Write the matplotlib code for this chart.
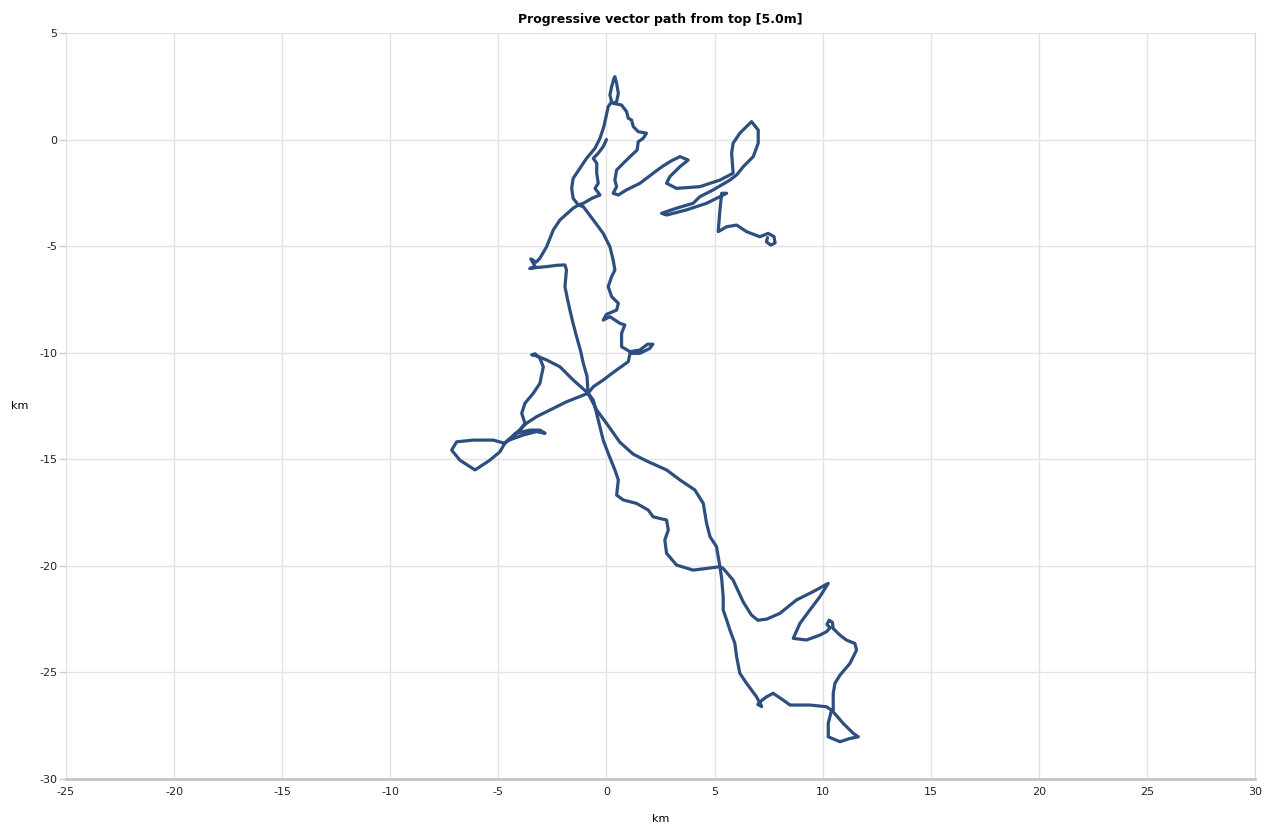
import numpy as np
import matplotlib.pyplot as plt

plt.rcParams['axes.unicode_minus'] = False

# path pieces in km (east, north), in drawing order
seg_start = [(0.0, 0.0), (-0.15, -0.33), (-0.38, -0.64), (-0.61, -0.88), (-0.45, -1.11), (-0.45, -1.58),
             (-0.38, -2.05), (-0.53, -2.29), (-0.30, -2.6), (-0.68, -2.76), (-1.07, -2.99), (-1.30, -3.07)]
seg_left = [(-1.54, -3.22), (-2.15, -3.77), (-2.46, -4.24), (-2.77, -5.03), (-3.08, -5.57), (-3.25, -5.75),
            (-3.5, -5.6), (-3.3, -5.95), (-3.55, -6.05), (-3.2, -6.0), (-2.77, -5.96), (-2.3, -5.9),
            (-1.92, -5.88), (-1.85, -6.12), (-1.92, -6.9), (-1.80, -7.5), (-1.69, -8.0), (-1.55, -8.6),
            (-1.38, -9.25), (-1.2, -9.9), (-1.07, -10.5), (-0.9, -11.1), (-0.85, -11.9)]
seg_down = [(-0.61, -12.22), (-0.38, -13.16), (-0.15, -14.1), (0.08, -14.72), (0.39, -15.5), (0.55, -15.97),
            (0.47, -16.68), (0.78, -16.91), (1.39, -17.07), (1.93, -17.38), (2.16, -17.7), (2.78, -17.85),
            (2.86, -18.32), (2.70, -18.79), (2.78, -19.41), (3.24, -19.96), (4.01, -20.2), (4.63, -20.12),
            (5.25, -20.04)]
seg_south = [(5.33, -20.6), (5.40, -21.45), (5.40, -22.07), (5.56, -22.54), (5.71, -23.01), (5.94, -23.64),
             (6.02, -24.26), (6.17, -25.04), (6.48, -25.51), (6.94, -26.14), (7.1, -26.45), (7.18, -26.6),
             (7.0, -26.5), (7.2, -26.3), (7.41, -26.14), (7.71, -25.98), (8.18, -26.3), (8.49, -26.53),
             (9.41, -26.53), (10.18, -26.61), (10.41, -26.77)]
seg_triangle = [(10.26, -27.39), (10.26, -28.02), (10.80, -28.25), (11.26, -28.1), (11.65, -28.02),
                (11.42, -27.86), (10.95, -27.39), (10.49, -26.85)]
seg_east = [(10.49, -25.98), (10.57, -25.51), (10.80, -25.13), (11.26, -24.58), (11.57, -23.95),
            (11.49, -23.64), (11.1, -23.48), (10.80, -23.25), (10.49, -22.94), (10.45, -22.65),
            (10.3, -22.55), (10.2, -22.75), (10.35, -22.9), (10.18, -23.09), (9.87, -23.25), (9.25, -23.48),
            (8.64, -23.4), (8.95, -22.7), (9.41, -22.07), (9.87, -21.45), (10.26, -20.82), (9.56, -21.21),
            (8.79, -21.6), (8.02, -22.23), (7.41, -22.5), (7.0, -22.55), (6.7, -22.3), (6.33, -21.7),
            (5.86, -20.67), (5.40, -20.12), (5.25, -20.04)]
seg_back_up = [(5.09, -19.1), (4.79, -18.63), (4.63, -18.0), (4.48, -17.07), (4.09, -16.44), (3.40, -15.97),
               (2.78, -15.5), (1.86, -15.08), (1.24, -14.76), (0.62, -14.2), (0.0, -13.31), (-0.45, -12.69),
               (-0.85, -11.9)]
seg_hook = [(-1.54, -11.28), (-2.15, -10.66), (-2.77, -10.34), (-3.23, -10.15), (-3.46, -10.1), (-3.3, -10.05),
            (-3.08, -10.26), (-2.92, -10.66), (-3.08, -11.44), (-3.39, -11.91), (-3.77, -12.37),
            (-3.92, -12.84), (-3.77, -13.31), (-4.0, -13.63), (-4.47, -14.02), (-4.70, -14.25)]
seg_west_loop = [(-5.24, -14.1), (-6.16, -14.1), (-6.93, -14.18), (-7.16, -14.57), (-6.78, -15.04),
                 (-6.08, -15.5), (-5.39, -15.04), (-4.93, -14.65), (-4.70, -14.25)]
seg_sliver = [(-4.16, -13.78), (-3.54, -13.63), (-3.08, -13.63), (-2.84, -13.78), (-3.24, -13.7),
              (-3.85, -13.86), (-4.5, -14.1)]
seg_cross = [(-3.70, -13.31), (-3.23, -13.0), (-2.61, -12.69), (-1.84, -12.3), (-0.85, -11.9)]
seg_right = [(-0.61, -11.6), (-0.15, -11.28), (0.47, -10.81), (1.01, -10.42), (1.09, -10.03), (1.55, -10.03),
             (2.0, -9.8), (2.15, -9.6), (1.9, -9.6), (1.55, -9.87), (1.09, -9.95), (0.70, -9.72),
             (0.70, -9.09), (0.85, -8.70), (0.62, -8.62), (0.16, -8.31), (-0.15, -8.47), (0.0, -8.2),
             (0.47, -8.0), (0.55, -7.68), (0.24, -7.37), (0.08, -6.90), (0.24, -6.43), (0.39, -6.12),
             (0.31, -5.65), (0.16, -5.03), (-0.15, -4.40), (-0.61, -3.77), (-1.07, -3.15), (-1.30, -3.07)]
seg_north = [(-1.54, -2.76), (-1.61, -2.29), (-1.54, -1.82), (-1.23, -1.35), (-0.92, -0.88), (-0.53, -0.41),
             (-0.30, 0.06), (-0.12, 0.61), (-0.02, 1.07), (0.08, 1.54), (0.24, 1.78), (0.16, 2.09),
             (0.24, 2.48), (0.35, 2.88), (0.39, 2.95), (0.47, 2.64), (0.55, 2.17), (0.47, 1.78), (0.31, 1.70)]
seg_ne = [(0.70, 1.62), (0.93, 1.31), (1.01, 1.0), (1.16, 0.92), (1.24, 0.61), (1.47, 0.37), (1.85, 0.30),
          (1.70, 0.06), (1.47, -0.10), (1.42, -0.49), (1.09, -0.80), (0.78, -1.11), (0.47, -1.43),
          (0.39, -1.90), (0.47, -2.21), (0.31, -2.52), (0.55, -2.6), (0.93, -2.36), (1.55, -2.05),
          (2.16, -1.58), (2.6, -1.25), (3.0, -1.0), (3.40, -0.80), (3.78, -0.96), (3.40, -1.27),
          (2.93, -1.74), (2.78, -2.05), (3.24, -2.29), (4.32, -2.21), (5.25, -1.90), (5.86, -1.58)]
seg_ne_loop = [(5.79, -0.64), (5.86, -0.17), (6.17, 0.30), (6.71, 0.84), (7.02, 0.45), (7.02, -0.17),
               (6.79, -0.80), (6.33, -1.27), (6.02, -1.66), (5.71, -1.90)]
seg_narrow = [(4.94, -2.36), (4.32, -2.68), (4.01, -2.99), (3.24, -3.22), (2.55, -3.46), (2.78, -3.54),
              (3.70, -3.30), (4.63, -2.99), (5.56, -2.52), (5.33, -2.52)]
seg_end = [(5.25, -3.30), (5.17, -4.32), (5.56, -4.09), (6.02, -4.01), (6.48, -4.32), (7.10, -4.56),
           (7.48, -4.4), (7.75, -4.55), (7.8, -4.85), (7.6, -4.95), (7.4, -4.8), (7.45, -4.6)]

segments = [seg_start, seg_left, seg_down, seg_south, seg_triangle, seg_east, seg_back_up, seg_hook,
            seg_west_loop, seg_sliver, seg_cross, seg_right, seg_north, seg_ne, seg_ne_loop, seg_narrow, seg_end]
path = np.array([p for s in segments for p in s])

x_ticks = np.arange(-25, 31, 5)
y_ticks = np.arange(-30, 6, 5)

fig = plt.figure(figsize=(12.77, 8.30), dpi=100)
ax = fig.add_axes([66 / 1277, 1 - 779 / 830, (1255 - 66) / 1277, (779 - 33) / 830])

ax.plot(path[:, 0], path[:, 1], color='#2d4f80', lw=2.3, solid_joinstyle='round', solid_capstyle='round', zorder=3)

ax.set_xlim(-25, 30)
ax.set_ylim(-30, 5)
ax.set_xticks(x_ticks)
ax.set_yticks(y_ticks)
ax.grid(True, color='#e3e3e3', lw=1)
ax.set_axisbelow(True)
for side in ['top', 'left']:
    ax.spines[side].set_visible(False)
ax.spines['right'].set_color('#d8d8d8')
ax.spines['bottom'].set_color('#c4c4c4')
ax.spines['bottom'].set_linewidth(2)
ax.tick_params(axis='x', length=0, pad=6, labelsize=8, labelcolor='#222222')
ax.tick_params(axis='y', length=5, width=1, color='#cccccc', pad=1, labelsize=8, labelcolor='#222222')

ax.set_title('Progressive vector path from top [5.0m]', fontsize=9, fontweight='bold', pad=7)
ax.set_xlabel('km', fontsize=8, labelpad=12)
ax.set_ylabel('km', fontsize=8, rotation=0, labelpad=14, va='center')

fig.savefig('out.png', dpi=100)
